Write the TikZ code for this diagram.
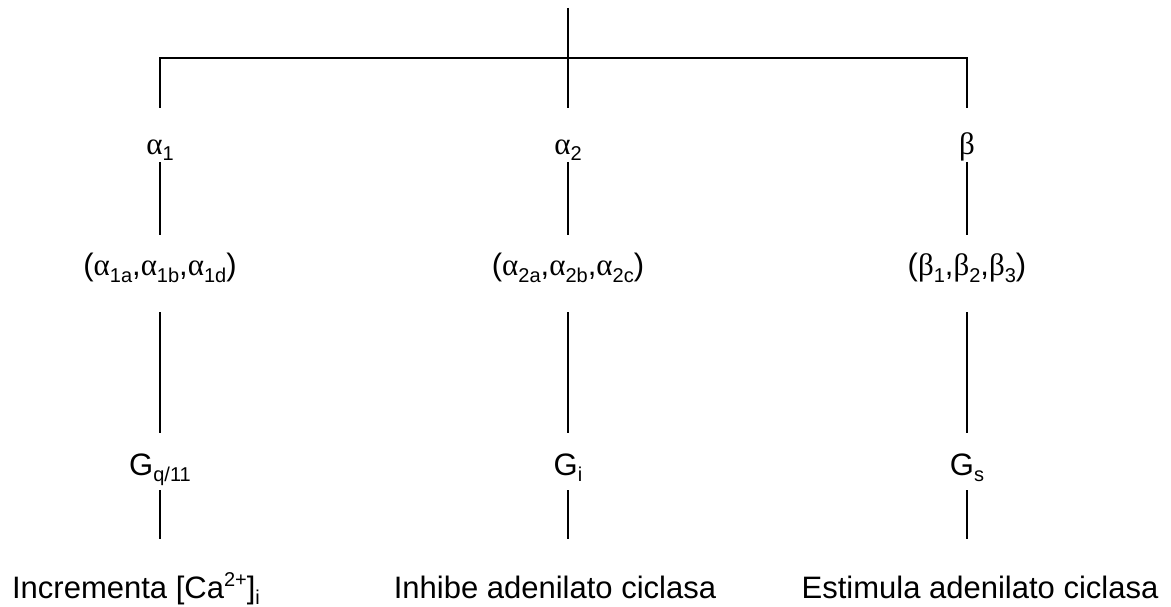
\documentclass[tikz,border=0pt]{standalone}
\usepackage{fontspec}
\setmainfont{Liberation Sans}
\newfontfamily\gk{Liberation Serif}
\newcommand\sbx[1]{\raisebox{-6pt}{\fontsize{20}{20}\selectfont #1}}
\newcommand\spx[1]{\raisebox{12pt}{\fontsize{20}{20}\selectfont #1}}
\newcommand\gal{{\gk α}}
\newcommand\gbe{{\gk β}}
\begin{document}
\begin{tikzpicture}[x=1pt,y=-1pt,
  every node/.style={inner sep=0pt, outer sep=0pt, anchor=base,
    font=\fontsize{31}{36}\selectfont},
  rowa/.style={text height=47pt, text depth=7pt},
  rowb/.style={text height=41pt, text depth=36pt},
  rowc/.style={text height=42pt, text depth=15pt},
  rowd/.style={text height=59pt, text depth=8pt},
  ln/.style={line width=1.3pt, black}]
\useasboundingbox (0,0) rectangle (1171,607);
\coordinate (top) at (568,8);
\coordinate (j) at (568,58);
% row 1
\node[rowa] (a1) at (160,155) {\gal\sbx{1}};
\node[rowa] (a2) at (568,155) {\gal\sbx{2}};
\node[rowa] (b)  at (967,155) {\gbe};
% row 2
\node[rowb] (a1s) at (160,276) {(\gal\sbx{1a},\gal\sbx{1b},\gal\sbx{1d})};
\node[rowb] (a2s) at (568,276) {(\gal\sbx{2a},\gal\sbx{2b},\gal\sbx{2c})};
\node[rowb] (bs)  at (967,276) {(\gbe\sbx{1},\gbe\sbx{2},\gbe\sbx{3})};
% row 3
\node[rowc] (g1) at (160,475) {G\sbx{q/11}};
\node[rowc] (g2) at (568,475) {G\sbx{i}};
\node[rowc] (g3) at (967,475) {G\sbx{s}};
% row 4
\node[rowd] (r1) at (136,598) {Incrementa [Ca\spx{2+}]\sbx{i}};
\node[rowd] (r2) at (555,598) {Inhibe adenilato ciclasa};
\node[rowd] (r3) at (980,598) {Estimula adenilato ciclasa};
% connectors
\draw[ln] (top) -- (a2.north);
\draw[ln] (a1.north) |- (j) -| (b.north);
\draw[ln] (a1.south) -- (a1s.north);
\draw[ln] (a2.south) -- (a2s.north);
\draw[ln] (b.south) -- (bs.north);
\draw[ln] (a1s.south) -- (g1.north);
\draw[ln] (a2s.south) -- (g2.north);
\draw[ln] (bs.south) -- (g3.north);
\draw[ln] (g1.south) -- (g1.south |- r1.north);
\draw[ln] (g2.south) -- (g2.south |- r2.north);
\draw[ln] (g3.south) -- (g3.south |- r3.north);
\end{tikzpicture}
\end{document}
